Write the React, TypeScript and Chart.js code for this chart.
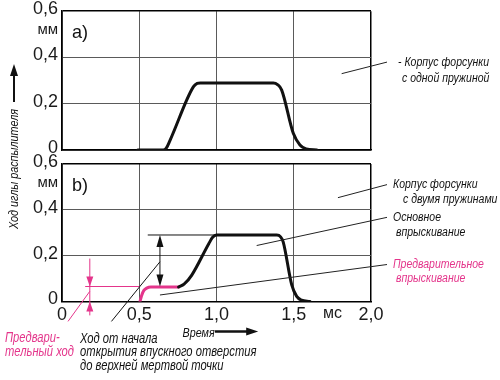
import React, { useEffect, useRef } from "react";
import { Chart, registerables } from "chart.js";

Chart.register(...registerables);

// ---- axis ticks ----
const X_TICKS = [0, 0.5, 1.0, 1.5, 1.75, 2.0];
const X_TICK_LABELS = ["0", "0,5", "1,0", "1,5", "мс", "2,0"];
const Y_TICKS = [0, 0.2, 0.4, 0.51, 0.6];
const Y_TICK_LABELS = ["0", "0,2", "0,4", "мм", "0,6"];
const UNIT_X = 1.75;
const UNIT_Y = 0.51;

// ---- panel a) single-spring holder: needle lift (mm) vs time (ms) ----
const A_TIME = [0.49, 0.655, 0.675, 0.7, 0.85, 0.875, 0.895, 1.368, 1.395, 1.422, 1.497, 1.54, 1.58, 1.65];
const A_LIFT = [0, 0, 0.008, 0.043, 0.273, 0.288, 0.29, 0.29, 0.283, 0.259, 0.072, 0.022, 0.005, 0];

// ---- panel b) two-spring holder ----
const B_PRE_TIME = [0.505, 0.515, 0.53, 0.548, 0.575, 0.755];
const B_PRE_LIFT = [0, 0.025, 0.048, 0.058, 0.063, 0.063];
const B_MAIN_TIME = [0.755, 0.79, 0.84, 0.95, 0.975, 1.0, 1.39, 1.415, 1.432, 1.487, 1.519, 1.55, 1.605];
const B_MAIN_LIFT = [0.063, 0.075, 0.115, 0.252, 0.28, 0.29, 0.29, 0.282, 0.259, 0.072, 0.022, 0.006, 0];

const PRE_STROKE = 0.065;
const MAIN_STROKE = 0.29;

const PINK = "#e4358b";
const INK = "#111111";
const GRID = "#5a5a5a";
const FAMILY = "'Liberation Sans', Arial, sans-serif";

function pts(xs: number[], ys: number[]) {
  return xs.map((x, i) => ({ x, y: ys[i] }));
}

function scalesFor(showX: boolean) {
  return {
    x: {
      type: "linear",
      min: 0,
      max: 2,
      afterBuildTicks: (s: any) => {
        s.ticks = X_TICKS.map((v) => ({ value: v }));
      },
      ticks: {
        display: showX,
        autoSkip: false,
        maxRotation: 0,
        minRotation: 0,
        padding: 3,
        color: "#1a1a1a",
        font: (c: any) => ({ family: FAMILY, size: c.tick && c.tick.value === UNIT_X ? 16 : 18 }),
        callback: (_v: any, i: number) => X_TICK_LABELS[i],
      },
      grid: {
        drawTicks: false,
        color: (c: any) => {
          const v = c.tick ? c.tick.value : -1;
          if (v === UNIT_X) return "rgba(0,0,0,0)";
          if (v === 2) return "#000";
          return GRID;
        },
        lineWidth: (c: any) => (c.tick && c.tick.value === 2 ? 1.5 : 1),
      },
      border: { color: "#000", width: 1.5 },
    },
    y: {
      min: 0,
      max: 0.6,
      afterBuildTicks: (s: any) => {
        s.ticks = Y_TICKS.map((v) => ({ value: v }));
      },
      afterFit: (s: any) => {
        s.width = 62;
      },
      ticks: {
        padding: 4,
        labelOffset: -2,
        color: "#1a1a1a",
        font: (c: any) => ({
          family: FAMILY,
          size: c.tick && c.tick.value === UNIT_Y ? 15 : 18,
          lineHeight: 0.8,
        }),
        callback: (_v: any, i: number) => Y_TICK_LABELS[i],
      },
      grid: {
        drawTicks: false,
        color: (c: any) => {
          const v = c.tick ? c.tick.value : -1;
          if (v === UNIT_Y) return "rgba(0,0,0,0)";
          if (v === 0.6) return "#000";
          return GRID;
        },
        lineWidth: (c: any) => (c.tick && c.tick.value === 0.6 ? 1.5 : 1),
      },
      border: { color: "#000", width: 1.5 },
    },
  };
}

function head(ctx: CanvasRenderingContext2D, x: number, y: number, dir: string, len: number, half: number, color: string) {
  ctx.save();
  ctx.fillStyle = color;
  ctx.beginPath();
  ctx.moveTo(x, y);
  if (dir === "up") {
    ctx.lineTo(x - half, y + len);
    ctx.lineTo(x + half, y + len);
  } else if (dir === "down") {
    ctx.lineTo(x - half, y - len);
    ctx.lineTo(x + half, y - len);
  } else {
    ctx.lineTo(x - len, y - half);
    ctx.lineTo(x - len, y + half);
  }
  ctx.closePath();
  ctx.fill();
  ctx.restore();
}

function line(ctx: CanvasRenderingContext2D, x1: number, y1: number, x2: number, y2: number, color: string, w = 1) {
  ctx.save();
  ctx.strokeStyle = color;
  ctx.lineWidth = w;
  ctx.beginPath();
  ctx.moveTo(x1, y1);
  ctx.lineTo(x2, y2);
  ctx.stroke();
  ctx.restore();
}

type TextStyle = { font: string; sx: number };

function text(ctx: CanvasRenderingContext2D, s: string, x: number, y: number, color: string, st: TextStyle, align: CanvasTextAlign = "left") {
  ctx.save();
  ctx.translate(x, y);
  ctx.scale(st.sx, 1);
  ctx.fillStyle = color;
  ctx.font = st.font;
  ctx.textAlign = align;
  ctx.textBaseline = "middle";
  ctx.fillText(s, 0, 0);
  ctx.restore();
}

const LABEL: TextStyle = { font: "italic 12.5px " + FAMILY, sx: 0.84 };
const NOTE: TextStyle = { font: "italic 14px " + FAMILY, sx: 0.8 };
const CAPTION: TextStyle = { font: "italic 12.5px " + FAMILY, sx: 0.86 };
const TITLE: TextStyle = { font: "italic 13px " + FAMILY, sx: 0.83 };
const PANEL: TextStyle = { font: "19px " + FAMILY, sx: 0.95 };

const topNotes = {
  id: "topNotes",
  afterDraw(chart: any) {
    const { ctx, chartArea: a, scales } = chart;
    const xs = (v: number) => scales.x.getPixelForValue(v);
    const ys = (v: number) => scales.y.getPixelForValue(v);
    text(ctx, "a)", a.left + 10, ys(UNIT_Y) + 1, "#111", PANEL);
    line(ctx, xs(1.81), ys(0.33), a.right + 16, ys(0.38), "#222", 1);
    text(ctx, "- Корпус форсунки", a.right + 27, ys(0.38), "#111", LABEL);
    text(ctx, "с одной пружиной", a.right + 31, ys(0.38) + 16, "#111", LABEL);
  },
};

const bottomNotes = {
  id: "bottomNotes",
  afterDraw(chart: any) {
    const { ctx, chartArea: a, scales } = chart;
    const xs = (v: number) => scales.x.getPixelForValue(v);
    const ys = (v: number) => scales.y.getPixelForValue(v);
    const y0 = ys(0);

    text(ctx, "b)", a.left + 10, ys(UNIT_Y) + 1, "#111", PANEL);

    // right-side leader lines and labels
    line(ctx, xs(1.786), ys(0.453), a.right + 16, ys(0.51), "#222", 1);
    text(ctx, "Корпус форсунки", a.right + 22, ys(0.51), "#111", LABEL);
    text(ctx, "с двумя пружинами", a.right + 32, ys(0.51) + 15, "#111", LABEL);

    line(ctx, xs(1.26), ys(0.244), a.right + 16, ys(0.367), "#222", 1);
    text(ctx, "Основное", a.right + 22, ys(0.367), "#111", LABEL);
    text(ctx, "впрыскивание", a.right + 25, ys(0.367) + 15, "#111", LABEL);

    line(ctx, xs(0.634), ys(0.028), a.right + 16, ys(0.161), "#222", 1);
    text(ctx, "Предварительное", a.right + 22, ys(0.161), PINK, LABEL);
    text(ctx, "впрыскивание", a.right + 25, ys(0.161) + 14, PINK, LABEL);

    // main stroke dimension
    line(ctx, xs(0.555), ys(MAIN_STROKE), xs(1.0), ys(MAIN_STROKE), "#111", 1);
    const ax = xs(0.634);
    line(ctx, ax, ys(MAIN_STROKE) + 4, ax, ys(PRE_STROKE) - 4, "#111", 1);
    head(ctx, ax, ys(MAIN_STROKE), "up", 12, 3.5, "#111");
    head(ctx, ax, ys(PRE_STROKE), "down", 12, 3.5, "#111");

    // pre-stroke dimension (pink)
    line(ctx, xs(0.15), ys(PRE_STROKE), xs(0.505), ys(PRE_STROKE), PINK, 1);
    const px = xs(0.18);
    line(ctx, px, ys(0.187), px, y0 + 14, PINK, 1);
    head(ctx, px, ys(PRE_STROKE), "down", 10, 3.5, PINK);
    head(ctx, px, y0, "up", 10, 3.5, PINK);

    // pointers to bottom notes
    line(ctx, xs(0.039), y0 + 20, px, ys(0.044), PINK, 1);
    line(ctx, xs(0.32), y0 + 20, ax, ys(0.173), "#111", 1);

    // axis caption
    text(ctx, "Время", xs(0.78), y0 + 32, "#111", CAPTION);
    line(ctx, xs(0.99), y0 + 30, xs(1.2), y0 + 30, "#111", 2.5);
    head(ctx, xs(1.27), y0 + 30, "right", 12, 4, "#111");

    // bottom-left notes
    text(ctx, "Предвари-", 5, y0 + 37, PINK, NOTE);
    text(ctx, "тельный ход", 5, y0 + 51, PINK, NOTE);
    text(ctx, "Ход от начала", xs(0.117), y0 + 38, "#111", NOTE);
    text(ctx, "открытия впускного отверстия", xs(0.117), y0 + 51, "#111", NOTE);
    text(ctx, "до верхней мертвой точки", xs(0.117), y0 + 65, "#111", NOTE);

    // shared y-axis title
    ctx.save();
    ctx.translate(14, 169);
    ctx.rotate(-Math.PI / 2);
    text(ctx, "Ход иглы распылителя", 0, 0, "#111", TITLE, "center");
    ctx.restore();
    line(ctx, 14, 102, 14, 74, "#111", 2);
    head(ctx, 14, 64, "up", 12, 4, "#111");
  },
};

export default function App() {
  const topRef = useRef<HTMLCanvasElement>(null);
  const botRef = useRef<HTMLCanvasElement>(null);

  useEffect(() => {
    const lineDs = (data: any, color: string) => ({
      data,
      borderColor: color,
      borderWidth: 3,
      pointRadius: 0,
      fill: false,
      cubicInterpolationMode: "monotone",
      borderCapStyle: "round",
      borderJoinStyle: "round",
    });
    const common = {
      responsive: false,
      animation: false,
      events: [],
      plugins: { legend: { display: false }, tooltip: { enabled: false } },
    };
    const top = new Chart(topRef.current!, {
      type: "line",
      data: { datasets: [lineDs(pts(A_TIME, A_LIFT), INK)] },
      options: {
        ...common,
        layout: { padding: { left: 0, right: 129, top: 11, bottom: 230 } },
        scales: scalesFor(false),
      } as any,
      plugins: [topNotes],
    } as any);
    const bot = new Chart(botRef.current!, {
      type: "line",
      data: {
        datasets: [lineDs(pts(B_MAIN_TIME, B_MAIN_LIFT), INK), lineDs(pts(B_PRE_TIME, B_PRE_LIFT), PINK)],
      },
      options: {
        ...common,
        layout: { padding: { left: 0, right: 129, top: 164, bottom: 51 } },
        scales: scalesFor(true),
      } as any,
      plugins: [bottomNotes],
    } as any);
    return () => {
      top.destroy();
      bot.destroy();
    };
  }, []);

  const cs: React.CSSProperties = { position: "absolute", left: 0, top: 0 };
  return (
    <div style={{ position: "fixed", left: 0, top: 0, width: 500, height: 380, background: "#fff" }}>
      <canvas ref={botRef} width={500} height={380} style={cs} />
      <canvas ref={topRef} width={500} height={380} style={cs} />
    </div>
  );
}
